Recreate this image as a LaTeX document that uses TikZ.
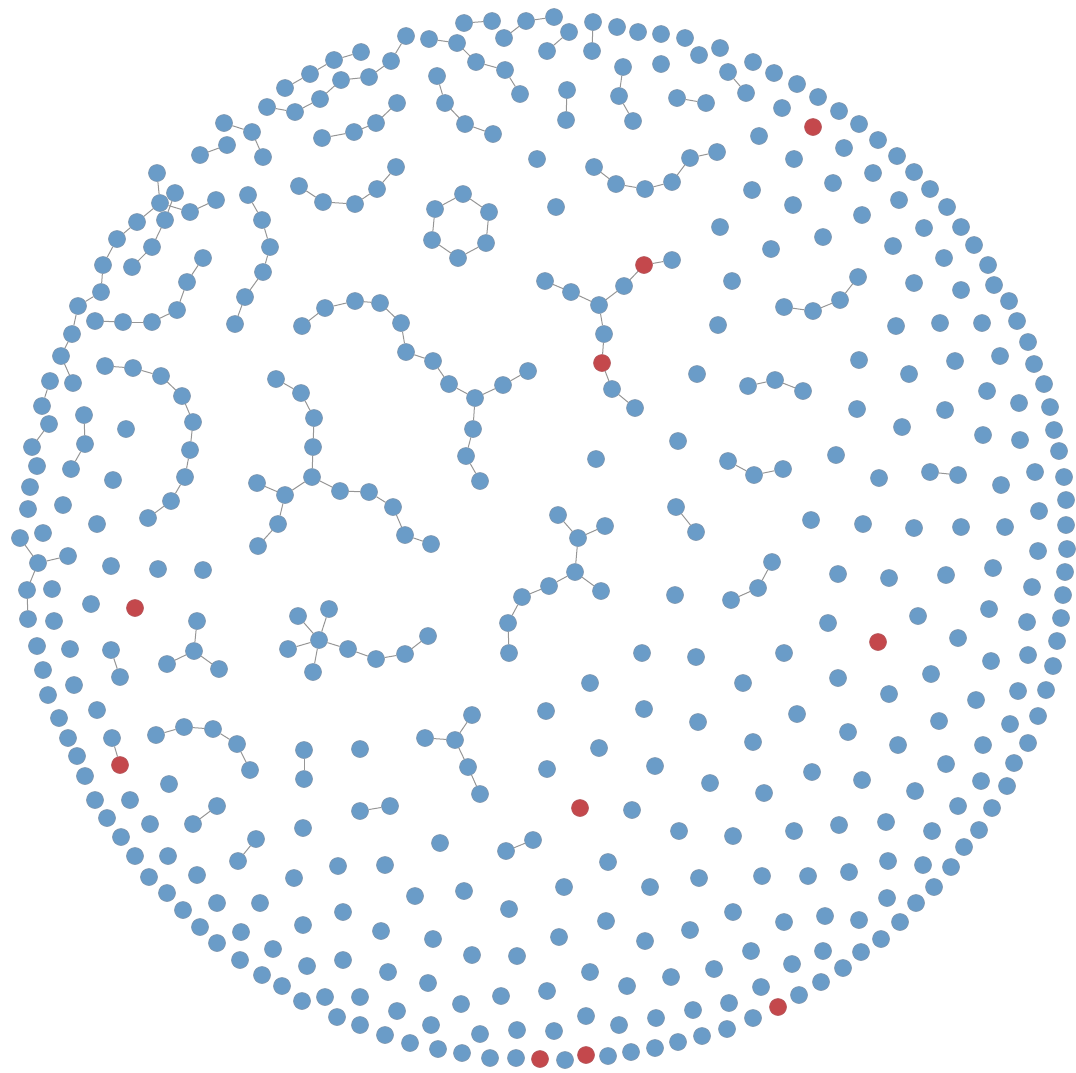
\documentclass[tikz,border=0pt]{standalone}
\usetikzlibrary{backgrounds}
\definecolor{dotblue}{RGB}{106,156,200}
\definecolor{dotedge}{RGB}{128,150,172}
\definecolor{dotred}{RGB}{196,72,76}
\definecolor{rededge}{RGB}{180,90,95}
\definecolor{edgegray}{RGB}{150,150,150}
\tikzset{
  dot/.style={circle, fill=dotblue, draw=dotedge, line width=0.6pt, minimum size=17pt, inner sep=0pt},
  reddot/.style={dot, fill=dotred, draw=rededge},
  link/.style={draw=edgegray, line width=1pt}
}
\begin{document}
\begin{tikzpicture}[x=1pt,y=-1pt]
\useasboundingbox (0,0) rectangle (1076,1072);
% blue dots
\foreach \x/\y in {
361/52, 334/60, 310/74, 285/88, 341/80, 320/99, 295/112, 267/107, 224/123, 252/132, 263/157, 227/145, 200/155, 322/138, 354/132, 157/173, 175/193, 160/203, 190/212, 216/200, 248/195, 262/220, 270/247, 263/272, 137/222, 117/239, 103/265, 165/220, 152/247, 132/267, 203/258, 299/186, 323/202, 355/204,
464/23, 492/21, 526/21, 554/17, 569/32, 593/22, 592/51, 617/27, 638/32, 661/34, 685/38, 699/55, 720/48, 406/36, 429/39, 457/43, 504/38, 547/51, 391/61, 476/62, 505/70, 520/94, 369/77, 437/76, 445/103, 465/124, 493/134, 397/103, 376/123, 623/67, 619/96, 633/121, 661/64, 567/90, 566/120, 677/98, 706/103, 537/159, 594/167, 616/184, 645/189, 672/182, 690/158, 717/152, 396/167, 377/189, 556/207, 463/194, 435/209, 489/212, 432/240, 486/243, 458/258, 720/227, 672/260,
753/62, 774/73, 797/84, 818/97, 839/111, 859/124, 878/140, 897/156, 914/172, 930/189, 947/207, 961/227, 974/245, 988/265, 728/72, 746/93, 782/108, 759/136, 844/148, 794/159, 873/173, 833/183, 752/190, 899/200, 793/205, 862/215, 924/228, 823/237, 893/246, 771/249, 944/258,
187/282, 245/297, 235/324, 101/292, 78/306, 95/321, 123/322, 152/322, 177/310, 72/334, 61/356, 50/381, 73/383, 42/406, 49/424, 32/447, 37/466, 30/487, 28/509, 20/538, 43/533, 105/366, 133/368, 161/376, 182/396, 193/422, 190/450, 185/477, 171/501, 148/518, 84/415, 85/444, 71/469, 126/429, 113/480, 63/505, 97/524, 302/326, 325/308, 355/301, 276/379, 301/393, 314/418, 313/447, 312/477, 257/483, 285/495, 340/491, 278/524,
380/303, 401/323, 406/352, 433/361, 449/384, 475/398, 503/385, 528/371, 473/429, 466/456, 480/481, 545/281, 571/292, 599/305, 624/286, 604/334, 612/389, 635/408, 718/325, 697/374, 678/441, 596/459, 369/492, 393/507, 405/535, 558/515, 605/526, 578/538, 676/507, 696/532,
732/281, 858/277, 840/300, 813/311, 784/307, 914/283, 961/290, 994/285, 1009/301, 896/326, 940/323, 982/323, 1017/321, 1028/342, 859/360, 955/361, 1000/356, 1034/364, 909/374, 748/386, 775/380, 803/391, 1044/384, 987/391, 857/409, 945/410, 1019/403, 1050/407, 902/427, 983/435, 1020/440, 1054/430, 1059/451, 836/455, 728/461, 754/475, 783/469, 879/478, 930/472, 958/475, 1035/472, 1001/485, 1064/477, 1066/500, 1039/511, 811/520, 863/524, 914/528, 961/527, 1005/527, 1066/525,
38/563, 68/556, 27/590, 52/589, 28/619, 54/621, 37/646, 70/649, 43/670, 74/685, 48/695, 59/718, 68/738, 77/756, 85/776, 95/800, 130/800, 111/566, 158/569, 203/570, 91/604, 197/621, 194/651, 167/664, 219/669, 111/650, 120/677, 97/710, 112/738, 169/784, 156/735, 184/727, 213/729, 237/744, 250/770, 304/750, 304/779, 360/749, 298/616, 329/609, 319/640, 288/649, 348/649, 313/672, 258/546, 217/806,
431/544, 675/595, 642/653, 696/657, 590/683, 546/711, 644/709, 698/722, 599/748, 547/769, 655/766, 710/783, 472/715, 425/738, 455/740, 468/767, 480/794, 390/806, 575/572, 601/591, 549/586, 522/597, 508/623, 509/653, 376/659, 405/654, 428/636,
772/562, 758/588, 731/600, 838/574, 889/578, 946/575, 993/568, 1038/551, 1067/549, 1032/587, 1065/572, 1063/595, 828/623, 918/616, 989/609, 1027/622, 1061/618, 958/638, 1057/641, 784/653, 991/661, 1028/655, 1053/666, 743/683, 838/678, 931/674, 889/694, 976/700, 1018/691, 1046/690, 797/714, 939/721, 1010/724, 1038/716, 753/742, 848/732, 898/745, 983/745, 1028/743, 946/764, 1014/763, 812/772, 862/780, 915/791, 981/781, 1007/786, 764/793, 958/806, 992/808,
107/818, 150/824, 193/824, 121/837, 135/856, 168/856, 149/877, 197/875, 167/893, 183/910, 217/903, 260/903, 200/927, 217/943, 241/932, 240/960, 273/949, 262/975, 307/966, 282/986, 302/1001, 325/997, 337/1017, 360/1025, 360/997, 343/960, 256/839, 238/861, 303/828, 338/866, 294/878, 343/912, 303/925, 360/811,
632/810, 679/831, 440/843, 506/851, 533/840, 608/862, 385/865, 699/878, 564/887, 650/887, 415/896, 464/891, 509/909, 606/921, 381/931, 433/939, 559/937, 645/941, 690/930, 472/955, 517/956, 590/972, 388/972, 428/983, 547/991, 627/986, 671/977, 714/969, 461/1004, 501/996, 397/1011, 586/1016, 619/1025, 656/1018, 693/1010, 431/1025, 517/1030, 554/1031, 385/1035, 410/1043, 480/1034, 438/1049, 462/1053, 490/1058, 516/1058, 565/1060, 608/1056, 631/1052, 655/1048, 678/1042, 702/1036,
979/830, 964/847, 951/867, 934/887, 916/903, 900/922, 881/939, 861/952, 843/968, 821/982, 799/995, 753/1018, 727/1029, 729/1003, 761/987, 792/964, 823/951, 859/920, 887/898, 923/865, 932/831, 886/822, 888/861, 839/825, 794/831, 733/836, 849/872, 808/876, 762/876, 733/912, 784/922, 825/916, 751/951}
  \node[dot] (p\x-\y) at (\x,\y) {};
% red dots
\foreach \x/\y in {644/265, 813/127, 602/363, 135/608, 120/765, 878/642, 580/808, 540/1059, 586/1055, 778/1007}
  \node[reddot] (p\x-\y) at (\x,\y) {};
% connectors
\begin{scope}[on background layer]
\foreach \a/\b in {
361-52/334-60, 334-60/310-74, 310-74/285-88,
406-36/391-61, 391-61/369-77, 369-77/341-80, 341-80/320-99, 320-99/295-112, 295-112/267-107,
224-123/252-132, 252-132/263-157, 227-145/200-155,
322-138/354-132, 354-132/376-123, 376-123/397-103,
299-186/323-202, 323-202/355-204, 355-204/377-189, 377-189/396-167,
248-195/262-220, 262-220/270-247, 270-247/263-272, 263-272/245-297, 245-297/235-324,
203-258/187-282, 187-282/177-310, 177-310/152-322, 152-322/123-322, 123-322/95-321,
157-173/160-203, 160-203/190-212, 190-212/216-200, 160-203/137-222, 137-222/117-239, 117-239/103-265, 103-265/101-292, 101-292/78-306, 78-306/72-334, 72-334/61-356, 61-356/73-383,
175-193/165-220, 165-220/152-247, 152-247/132-267,
50-381/42-406, 49-424/32-447,
464-23/492-21, 504-38/526-21, 526-21/554-17, 547-51/569-32, 593-22/592-51,
429-39/457-43, 457-43/476-62, 476-62/505-70, 505-70/520-94,
437-76/445-103, 445-103/465-124, 465-124/493-134,
623-67/619-96, 619-96/633-121, 567-90/566-120, 677-98/706-103, 728-72/746-93,
594-167/616-184, 616-184/645-189, 645-189/672-182, 672-182/690-158, 690-158/717-152,
463-194/489-212, 489-212/486-243, 486-243/458-258, 458-258/432-240, 432-240/435-209, 435-209/463-194,
545-281/571-292, 571-292/599-305, 599-305/624-286, 624-286/644-265, 644-265/672-260, 599-305/604-334, 604-334/602-363, 602-363/612-389, 612-389/635-408,
302-326/325-308, 325-308/355-301, 355-301/380-303, 380-303/401-323, 401-323/406-352, 406-352/433-361, 433-361/449-384, 449-384/475-398, 475-398/503-385, 503-385/528-371, 475-398/473-429, 473-429/466-456, 466-456/480-481,
276-379/301-393, 301-393/314-418, 314-418/313-447, 313-447/312-477, 312-477/285-495, 257-483/285-495, 285-495/278-524, 278-524/258-546, 312-477/340-491, 340-491/369-492, 369-492/393-507, 393-507/405-535, 405-535/431-544,
105-366/133-368, 133-368/161-376, 161-376/182-396, 182-396/193-422, 193-422/190-450, 190-450/185-477, 185-477/171-501, 171-501/148-518,
84-415/85-444, 85-444/71-469,
784-307/813-311, 813-311/840-300, 840-300/858-277,
748-386/775-380, 775-380/803-391, 728-461/754-475, 754-475/783-469, 930-472/958-475,
558-515/578-538, 605-526/578-538, 578-538/575-572, 575-572/601-591, 575-572/549-586, 549-586/522-597, 522-597/508-623, 508-623/509-653,
676-507/696-532,
20-538/38-563, 38-563/68-556, 38-563/27-590, 27-590/28-619,
197-621/194-651, 194-651/167-664, 194-651/219-669,
111-650/120-677, 112-738/120-765,
156-735/184-727, 184-727/213-729, 213-729/237-744, 237-744/250-770,
304-750/304-779,
319-640/298-616, 319-640/329-609, 319-640/288-649, 319-640/348-649, 319-640/313-672,
348-649/376-659, 376-659/405-654, 405-654/428-636,
472-715/455-740, 425-738/455-740, 455-740/468-767, 468-767/480-794,
772-562/758-588, 758-588/731-600,
193-824/217-806, 238-861/256-839, 506-851/533-840, 360-811/390-806}
  \draw[link] (p\a) -- (p\b);
\end{scope}
\end{tikzpicture}
\end{document}
